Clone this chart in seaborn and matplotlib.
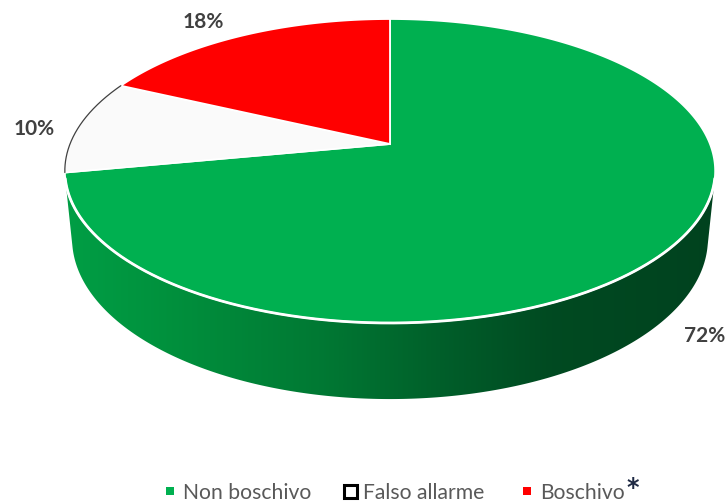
import numpy as np
import matplotlib
matplotlib.use("Agg")
import matplotlib.pyplot as plt
import seaborn as sns
from matplotlib.patches import Polygon, Rectangle
from matplotlib.colors import LinearSegmentedColormap

# ---- data ----
categories = ["Non boschivo", "Falso allarme", "Boschivo"]
shares = [72, 10, 18]
pct_labels = ["72%", "10%", "18%"]
top_colors = ["#00B050", "#FAFAFA", "#FF0000"]

sns.set_theme(style="white")
plt.rcParams['font.family'] = ['Lato', 'DejaVu Sans']

fig = plt.figure(figsize=(7.28, 5.02), dpi=100)
ax = fig.add_axes([0, 0, 1, 1])
ax.set_xlim(0, 728)
ax.set_ylim(502, 0)
ax.axis('off')

# ---- perspective camera for the 3-D pie ----
elev = np.arcsin(0.46)
D = 5.0
S = 1600.0
cx, cy = 390.0, 145.0
thick = 0.24
ce, se = np.cos(elev), np.sin(elev)
fwd = np.array([0.0, ce, -se])
rgt = np.array([1.0, 0.0, 0.0])
upv = np.array([0.0, se, ce])
cam = -D * fwd


def proj(x, y, z):
    P = np.stack(np.broadcast_arrays(x, y, z), axis=-1) - cam
    dep = P @ fwd
    return cx + S * (P @ rgt) / dep, cy - S * (P @ upv) / dep


# ---- side (visible front part) ----
a0 = np.arcsin(1.0 / (D * ce))
t = np.linspace(np.pi + a0, 2 * np.pi - a0, 400)
xt, yt = proj(np.cos(t), np.sin(t), 0.0)
xb, yb = proj(np.cos(t), np.sin(t), -thick)
side = np.column_stack([np.r_[xt, xb[::-1]], np.r_[yt, yb[::-1]]])
side_poly = Polygon(side, closed=True, facecolor='none', edgecolor='none')
ax.add_patch(side_poly)
side_cmap = LinearSegmentedColormap.from_list(
    "side",
    [(0.0, (0.0, 0.62, 0.27)), (0.15, (0.0, 0.57, 0.24)), (0.40, (0.0, 0.47, 0.20)),
     (0.60, (0.0, 0.36, 0.16)), (0.75, (0.0, 0.29, 0.13)), (1.0, (0.0, 0.26, 0.12))])
grad = np.linspace(0, 1, 512).reshape(1, -1)
im = ax.imshow(grad, cmap=side_cmap, aspect='auto',
               extent=[xt.min(), xt.max(), 502, 0], zorder=1)
im.set_clip_path(side_poly)

# ---- top face wedges ----
start = np.pi / 2
cum = 0.0
total = float(sum(shares))
wedge_ang = []
for val, col in zip(shares, top_colors):
    th1 = start - 2 * np.pi * cum / total
    th2 = start - 2 * np.pi * (cum + val) / total
    wedge_ang.append((th1, th2))
    tt = np.linspace(th1, th2, 300)
    ax_, ay_ = proj(np.cos(tt), np.sin(tt), 0.0)
    px, py = proj(0.0, 0.0, 0.0)
    pts = np.column_stack([np.r_[px, ax_], np.r_[py, ay_]])
    ax.add_patch(Polygon(pts, closed=True, facecolor=col, edgecolor='white',
                         linewidth=1.3, zorder=3))
    cum += val

# thin grey outline on white slice arc
th1, th2 = wedge_ang[1]
tt = np.linspace(th1, th2, 200)
ox, oy = proj(np.cos(tt), np.sin(tt), 0.0)
ax.plot(ox, oy, color='#404040', lw=0.9, zorder=4)

# white rim between top and side
ax.plot(xt, yt, color='white', lw=2.0, zorder=4, solid_capstyle='round')

# ---- percentage labels ----
lab_pos = [(705, 336), (34, 129), (203, 22)]
for txt, (lx, ly) in zip(pct_labels, lab_pos):
    ax.text(lx, ly, txt, ha='center', va='center', fontsize=15,
            fontweight='bold', color='#404040', zorder=5)

# ---- legend ----
ly = 492
fs = 15.2
ax.add_patch(Rectangle((166, ly - 4), 8, 8, facecolor=top_colors[0], edgecolor='none'))
ax.text(183, ly + 1, categories[0], ha='left', va='center', fontsize=fs, color='#595959')
ax.add_patch(Rectangle((344, ly - 6.5), 13, 13, facecolor='white',
                       edgecolor='black', linewidth=2.2))
ax.text(363, ly + 1, categories[1], ha='left', va='center', fontsize=fs, color='#595959')
ax.add_patch(Rectangle((523, ly - 4), 8, 8, facecolor=top_colors[2], edgecolor='none'))
ax.text(540, ly + 1, categories[2], ha='left', va='center', fontsize=fs, color='#595959')
ax.text(626, 488, "*", ha='left', va='center', fontsize=17, fontweight='bold',
        color='#1F2A44', family='DejaVu Sans')

fig.savefig("out.png", dpi=100)
